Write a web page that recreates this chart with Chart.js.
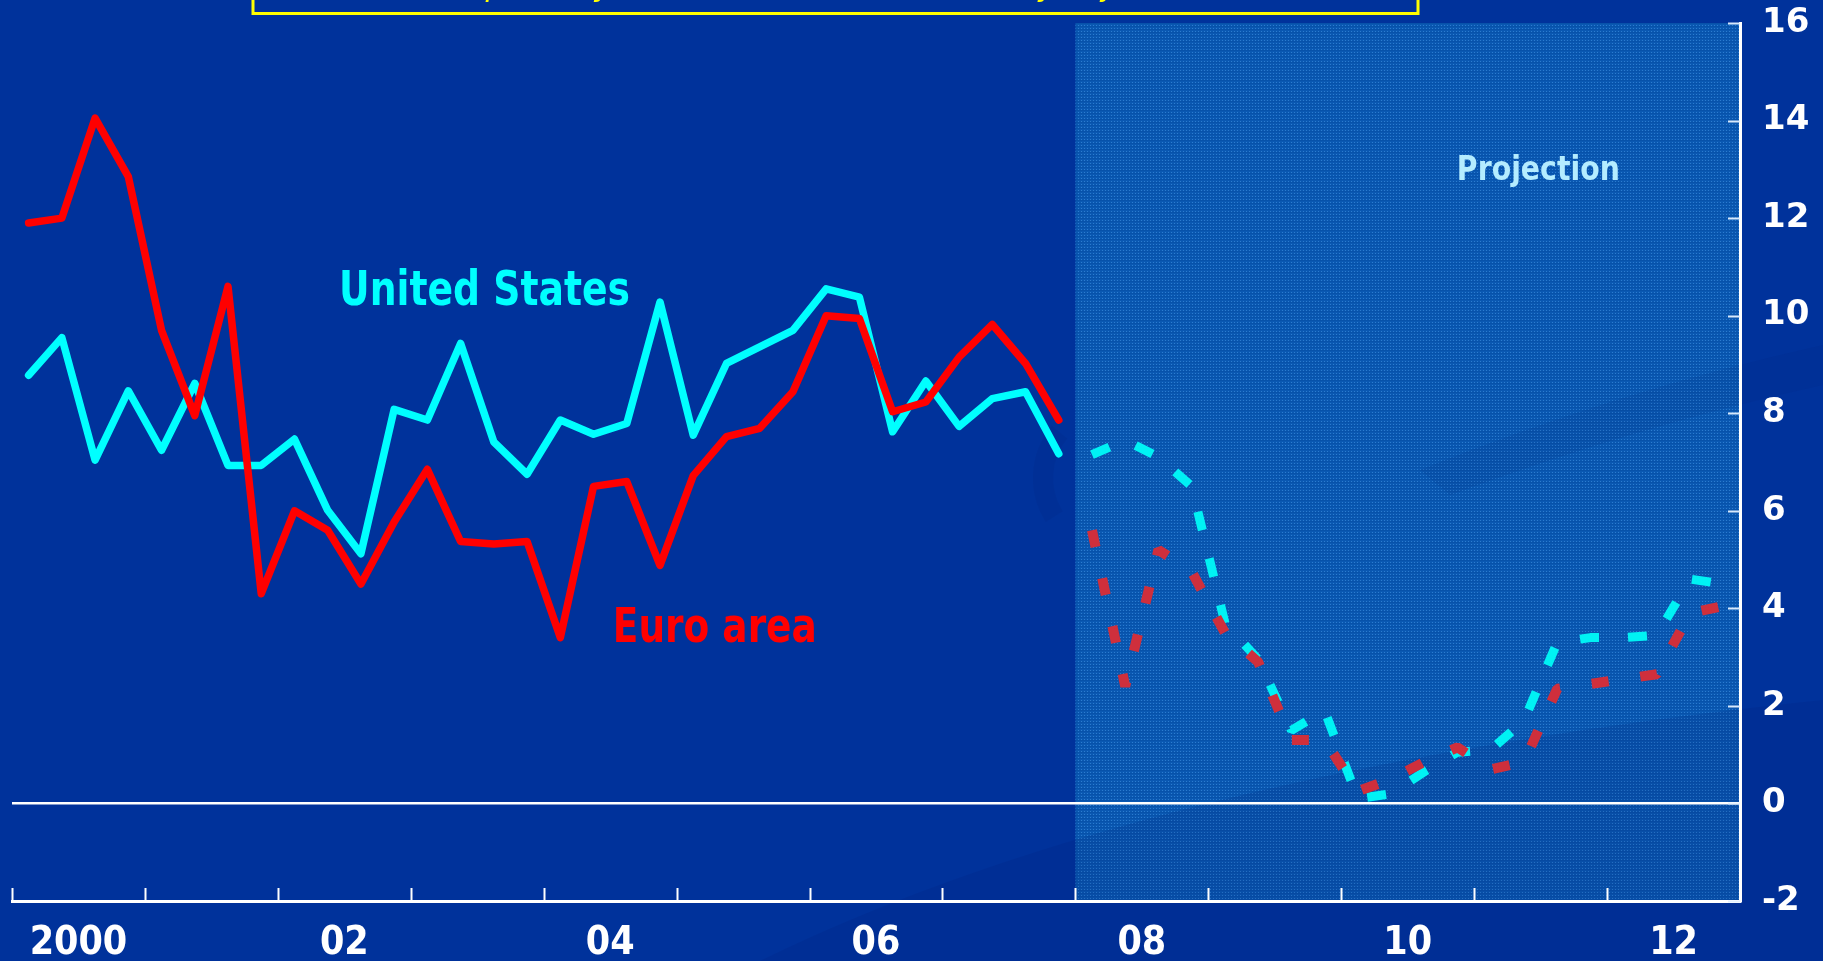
<!DOCTYPE html>
<html>
<head>
<meta charset="utf-8">
<title>Real GDP growth: euro area and United States</title>
<script src="https://cdn.jsdelivr.net/npm/chart.js@4.4.1/dist/chart.umd.min.js"></script>
<style>
  html, body { margin: 0; padding: 0; background: #00329b; overflow: hidden; }
  #wrap { width: 1823px; height: 961px; }
</style>
</head>
<body>
<div id="wrap"><canvas id="chart" width="1823" height="961"></canvas></div>
<script>
// Quarterly growth, annualised %, one value per quarter
const histYears = [2000, 2001, 2002, 2003, 2004, 2005, 2006, 2007];
const projYears = [2008, 2009, 2010, 2011, 2012];

const euroArea = [
  11.9, 12.0, 14.05, 12.85,
  9.7, 7.95, 10.6, 4.3,
  6.0, 5.6, 4.5, 5.77,
  6.85, 5.37, 5.32, 5.37,
  3.4, 6.5, 6.6, 4.88,
  6.72, 7.52, 7.69, 8.44,
  10.0, 9.94, 8.03, 8.23,
  9.15, 9.82, 9.02, 7.86
];
const unitedStates = [
  8.78, 9.55, 7.04, 8.46,
  7.24, 8.61, 6.93, 6.93,
  7.47, 6.01, 5.12, 8.08,
  7.86, 9.43, 7.41, 6.75,
  7.86, 7.57, 7.79, 10.28,
  7.55, 9.02, 9.36, 9.7,
  10.55, 10.38, 7.62, 8.66,
  7.73, 8.3, 8.44, 7.17
];
const euroAreaProj = [
  5.6, 2.4, 5.2, 4.75,
  3.5, 2.9, 1.3, 1.3,
  0.25, 0.5, 0.85, 1.15,
  0.7, 0.85, 2.35, 2.45,
  2.55, 2.65, 3.9, 4.05
];
const unitedStatesProj = [
  7.15, 7.45, 7.1, 6.5,
  3.7, 2.95, 1.5, 1.9,
  0.1, 0.2, 0.65, 1.05,
  1.1, 1.7, 3.3, 3.4,
  3.4, 3.45, 4.6, 4.5
];

const labelYears = [2000, 2002, 2004, 2006, 2008, 2010, 2012];
const yearLabels = ['2000', '02', '04', '06', '08', '10', '12'];

// each quarter sits in the middle of its slot on a year axis
function toPoints(values, firstYear) {
  return values.map((v, i) => ({ x: firstYear + (i + 0.5) / 4, y: v }));
}

const boldFont = "'DejaVu Sans', Verdana, sans-serif";
const condFont = "'DejaVu Sans Condensed', 'DejaVu Sans', sans-serif";

// fine dot texture for the projection panel
function dotPattern(ctx) {
  const c = document.createElement('canvas');
  c.width = 3; c.height = 3;
  const g = c.getContext('2d');
  g.fillStyle = '#0a58b2';
  g.fillRect(0, 0, 3, 3);
  g.fillStyle = '#2c7ccf';
  g.fillRect(1, 1, 1, 1);
  g.fillStyle = '#0752aa';
  g.fillRect(0, 2, 3, 1);
  return ctx.createPattern(c, 'repeat');
}

// slide background, swooshes and the shaded projection period
const backdrop = {
  id: 'backdrop',
  beforeDraw(chart) {
    const { ctx, width, height, chartArea: a, scales: { x, y } } = chart;
    ctx.save();
    ctx.fillStyle = '#00329b';
    ctx.fillRect(0, 0, width, height);

    const x0 = x.getPixelForValue(projYears[0]);
    const top = y.getPixelForValue(y.max);
    const bottom = y.getPixelForValue(y.min);
    ctx.fillStyle = dotPattern(ctx);
    ctx.fillRect(x0, top, a.right - x0, bottom - top);

    // faint darker swooshes behind everything
    ctx.fillStyle = '#001f70';
    ctx.globalAlpha = 0.14;
    ctx.beginPath();
    ctx.moveTo(760, height);
    ctx.quadraticCurveTo(1150, 770, width, 700);
    ctx.lineTo(width, height);
    ctx.closePath();
    ctx.fill();

    ctx.globalAlpha = 0.09;
    ctx.beginPath();
    ctx.moveTo(1420, 470);
    ctx.quadraticCurveTo(1620, 390, width, 345);
    ctx.lineTo(width, 385);
    ctx.quadraticCurveTo(1640, 425, 1450, 495);
    ctx.closePath();
    ctx.fill();

    ctx.globalAlpha = 0.16;
    ctx.lineWidth = 20;
    ctx.strokeStyle = '#00287f';
    ctx.beginPath();
    ctx.arc(1115, 478, 72, Math.PI * 0.82, Math.PI * 1.22);
    ctx.stroke();
    ctx.restore();
  }
};

// short inward tick marks on both axes
const axisMarks = {
  id: 'axisMarks',
  afterDatasetsDraw(chart) {
    const { ctx, chartArea: a, scales: { x, y } } = chart;
    ctx.save();
    ctx.lineWidth = 2;
    ctx.strokeStyle = '#ffffff';
    for (let yr = x.min; yr <= x.max; yr++) {
      const px = Math.round(x.getPixelForValue(yr)) + 0.5;
      ctx.beginPath();
      ctx.moveTo(px, a.bottom);
      ctx.lineTo(px, a.bottom - 13);
      ctx.stroke();
    }
    ctx.strokeStyle = 'rgba(225,240,255,0.95)';
    y.ticks.forEach(t => {
      const py = Math.round(y.getPixelForValue(t.value)) + 0.5;
      ctx.beginPath();
      ctx.moveTo(a.right - 12, py);
      ctx.lineTo(a.right, py);
      ctx.stroke();
    });
    ctx.restore();
  }
};

// series names, panel label and the title box cut by the top edge
const notes = [
  { text: 'United States', color: '#00ffff', x: 2002.46, y: 10.22, size: 48, width: 291 },
  { text: 'Euro area', color: '#ff0000', x: 2004.52, y: 3.31, size: 48, width: 204 },
  { text: 'Projection', color: '#b4ecff', x: 2010.87, y: 12.79, size: 34, width: 163 }
];

const labels = {
  id: 'labels',
  afterDraw(chart) {
    const { ctx, scales: { x, y } } = chart;
    ctx.save();
    ctx.textBaseline = 'alphabetic';
    ctx.textAlign = 'left';
    notes.forEach(n => {
      ctx.font = 'bold ' + n.size + 'px ' + boldFont;
      const w = ctx.measureText(n.text).width;
      ctx.save();
      ctx.translate(x.getPixelForValue(n.x), y.getPixelForValue(n.y));
      ctx.scale(n.width / w, 1);
      ctx.fillStyle = n.color;
      ctx.fillText(n.text, 0, 0);
      ctx.restore();
    });

    ctx.strokeStyle = '#ffff00';
    ctx.lineWidth = 3;
    ctx.strokeRect(253, -20, 1165, 33.5);
    ctx.fillStyle = '#ffff00';
    ctx.font = 'italic 30px ' + boldFont;
    ctx.textAlign = 'center';
    ctx.fillText('(quarterly, annualised rates, seasonally adjusted)', 835, -4);
    ctx.restore();
  }
};

// keep the plot area edges where they are, labels may overhang
function noOverhang(scale) {
  scale.paddingTop = 0;
  scale.paddingBottom = 0;
  scale.paddingLeft = 0;
  scale.paddingRight = 0;
}

new Chart(document.getElementById('chart'), {
  type: 'line',
  data: {
    datasets: [
      {
        label: 'Euro area',
        data: toPoints(euroArea, histYears[0]),
        borderColor: '#ff0000',
        borderWidth: 7.5
      },
      {
        label: 'Euro area projection',
        data: toPoints(euroAreaProj, projYears[0]),
        borderColor: '#cf2f3c',
        borderWidth: 10,
        borderDash: [17, 32],
        borderCapStyle: 'butt',
        borderJoinStyle: 'bevel'
      },
      {
        label: 'United States',
        data: toPoints(unitedStates, histYears[0]),
        borderColor: '#00ffff',
        borderWidth: 7.5
      },
      {
        label: 'United States projection',
        data: toPoints(unitedStatesProj, projYears[0]),
        borderColor: '#00f2f4',
        borderWidth: 9,
        borderDash: [19, 29],
        borderCapStyle: 'butt',
        borderJoinStyle: 'bevel'
      }
    ]
  },
  options: {
    responsive: false,
    animation: false,
    devicePixelRatio: 1,
    layout: { padding: { left: 12, top: 23, right: 0, bottom: 0 } },
    elements: {
      point: { radius: 0 },
      line: { tension: 0, borderJoinStyle: 'round', borderCapStyle: 'round', fill: false }
    },
    plugins: {
      legend: { display: false },
      tooltip: { enabled: false }
    },
    scales: {
      x: {
        type: 'linear',
        min: 2000,
        max: 2013,
        afterBuildTicks: scale => {
          scale.ticks = labelYears.map(yr => ({ value: yr + 0.5 }));
        },
        afterFit: scale => { scale.height = 60; noOverhang(scale); },
        grid: { display: false },
        border: { display: true, color: '#ffffff', width: 3 },
        ticks: {
          autoSkip: false,
          maxRotation: 0,
          padding: 11,
          color: '#ffffff',
          font: { family: condFont, size: 39, weight: 'bold' },
          callback: (value, index) => yearLabels[index]
        }
      },
      y: {
        position: 'right',
        min: -2,
        max: 16,
        afterFit: scale => { scale.width = 83; noOverhang(scale); },
        grid: {
          drawTicks: false,
          lineWidth: 2.5,
          color: ctx => (ctx.tick && ctx.tick.value === 0 ? '#ffffff' : 'rgba(0,0,0,0)')
        },
        border: { display: true, color: '#ffffff', width: 3 },
        ticks: {
          stepSize: 2,
          padding: 22,
          color: '#ffffff',
          font: { family: boldFont, size: 34, weight: 'bold' }
        }
      }
    }
  },
  plugins: [backdrop, axisMarks, labels]
});
</script>
</body>
</html>
